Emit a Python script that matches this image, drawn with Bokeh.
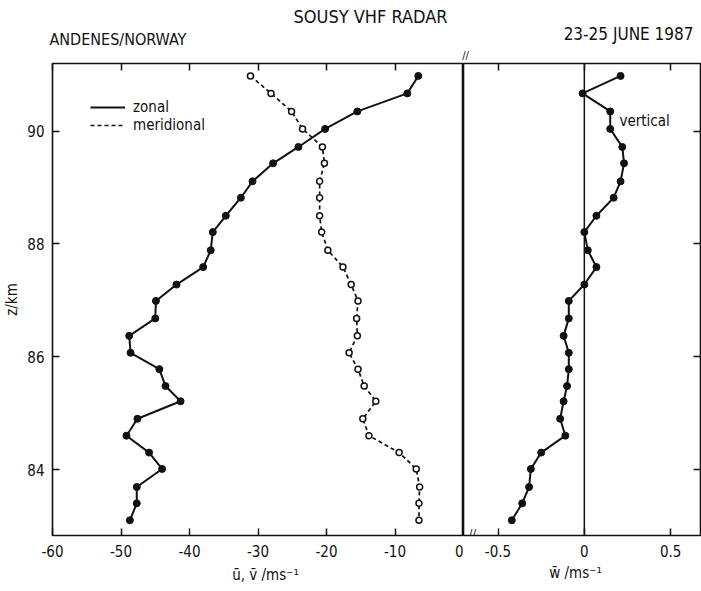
from bokeh.plotting import figure
from bokeh.layouts import row, column
from bokeh.models import (ColumnDataSource, Range1d, FixedTicker, LinearAxis, Label,
                          Legend, LegendItem, Span, CustomLabelingPolicy)
from bokeh.embed import file_html
from bokeh.resources import INLINE

# ---------------- data ----------------
height_km = [90.98, 90.67, 90.35, 90.04, 89.72, 89.43, 89.11, 88.82, 88.50, 88.21,
             87.89, 87.59, 87.28, 86.99, 86.68, 86.37, 86.07, 85.78, 85.48, 85.21,
             84.90, 84.60, 84.30, 84.01, 83.69, 83.40, 83.10]
zonal = [-6.6, -8.2, -15.5, -20.2, -24.1, -27.8, -30.8, -32.5, -34.7, -36.6,
         -36.9, -38.0, -41.9, -44.9, -45.0, -48.8, -48.6, -44.4, -43.5, -41.3,
         -47.6, -49.2, -45.9, -44.0, -47.7, -47.7, -48.7]
meridional = [-31.1, -28.1, -25.1, -23.5, -20.6, -20.3, -21.0, -21.0, -21.0, -20.7,
              -19.8, -17.6, -16.4, -15.4, -15.6, -15.5, -16.7, -15.4, -14.5, -12.8,
              -14.7, -13.8, -9.4, -6.9, -6.4, -6.5, -6.5]
vertical = [0.21, -0.01, 0.15, 0.15, 0.22, 0.23, 0.21, 0.17, 0.07, 0.00,
            0.02, 0.07, 0.00, -0.09, -0.09, -0.12, -0.09, -0.09, -0.10, -0.12,
            -0.14, -0.11, -0.25, -0.31, -0.32, -0.36, -0.42]

u_ticks = [-60, -50, -40, -30, -20, -10, 0]
w_ticks = [-0.5, 0, 0.5]
z_ticks = [84, 86, 88, 90]

title_text = "SOUSY VHF RADAR"
site_text = "ANDENES/NORWAY"
date_text = "23-25 JUNE 1987"
u_label = "u\u0304, v\u0304 /ms\u207b\u00b9"
w_label = "w\u0304 /ms\u207b\u00b9"
z_label = "z/km"

FONT = "DejaVu Sans Condensed"
INK = "#111111"


def tick_text(t):
    return "0" if t == 0 else ("%g" % t)


src_uv = ColumnDataSource(dict(z=height_km, u=zonal, v=meridional))
src_w = ColumnDataSource(dict(z=height_km, w=vertical))

y_rng = Range1d(82.83, 91.2)

base = dict(output_backend="svg", toolbar_location=None,
            x_axis_type=None, y_axis_type=None, background_fill_color="white",
            border_fill_color="white")

# header and footer strips that carry the free texts
header = figure(frame_width=700, frame_height=62, min_border=0,
                x_range=Range1d(0, 700), y_range=Range1d(0, 62), **base)
footer = figure(frame_width=700, frame_height=27, min_border=0,
                x_range=Range1d(0, 700), y_range=Range1d(0, 27), **base)
for f in (header, footer):
    f.grid.visible = False
    f.outline_line_color = None

common = dict(frame_height=472, min_border_top=1, min_border_bottom=28, y_range=y_rng, **base)

p1 = figure(frame_width=411, min_border_left=50, min_border_right=0,
            x_range=Range1d(-60, 0), **common)
p2 = figure(frame_width=237, min_border_left=0, min_border_right=2,
            x_range=Range1d(-0.70, 0.673), **common)

for p in (p1, p2):
    p.grid.visible = False
    p.outline_line_color = INK
    p.outline_line_width = 1.6

NO_LABELS = CustomLabelingPolicy(code="""
    for (const i of Array.from(indices)) { indices.unset(i) }
    return indices
""")


def style_axis(ax, ticks, show_labels=True):
    ax.ticker = FixedTicker(ticks=ticks)
    ax.axis_line_color = None
    ax.major_tick_in = 7
    ax.major_tick_out = 0
    ax.major_tick_line_color = INK
    ax.major_tick_line_width = 1.5
    ax.minor_tick_line_color = None
    ax.major_label_text_font = FONT
    ax.major_label_text_color = INK
    if show_labels:
        ax.major_label_text_font_size = "15px"
        ax.major_label_standoff = 9
        ax.major_label_overrides = {t: tick_text(t) for t in ticks}
    else:
        ax.major_label_policy = NO_LABELS
        ax.major_label_text_font_size = "0px"
        ax.major_label_standoff = 0
    return ax


p1.add_layout(style_axis(LinearAxis(), u_ticks), "below")
p1.add_layout(style_axis(LinearAxis(), u_ticks, show_labels=False), "above")
zax = style_axis(LinearAxis(), z_ticks)
zax.major_label_standoff = 8
zax.axis_label = z_label
zax.axis_label_text_font = FONT
zax.axis_label_text_font_size = "15px"
zax.axis_label_text_font_style = "normal"
zax.axis_label_text_color = INK
zax.axis_label_standoff = 3
p1.add_layout(zax, "left")

p2.add_layout(style_axis(LinearAxis(), w_ticks), "below")
p2.add_layout(style_axis(LinearAxis(), w_ticks, show_labels=False), "above")
p2.add_layout(style_axis(LinearAxis(), z_ticks, show_labels=False), "right")

# ---------------- data marks ----------------
r_zonal = p1.line("u", "z", source=src_uv, line_color=INK, line_width=2)
p1.scatter("u", "z", source=src_uv, size=7, fill_color=INK, line_color=INK)
r_mer = p1.line("v", "z", source=src_uv, line_color=INK, line_width=1.7, line_dash="4 3")
p1.scatter("v", "z", source=src_uv, size=6, fill_color="white", line_color=INK, line_width=1.5)

p2.add_layout(Span(location=0, dimension="height", line_color=INK, line_width=1.5))
p2.line("w", "z", source=src_w, line_color=INK, line_width=2)
p2.scatter("w", "z", source=src_w, size=7, fill_color=INK, line_color=INK)

legend = Legend(items=[LegendItem(label="zonal", renderers=[r_zonal]),
                       LegendItem(label="meridional", renderers=[r_mer])],
                location=(38, 401), glyph_width=35, glyph_height=16, label_height=16,
                label_standoff=8, spacing=0, padding=0, border_line_color=None,
                background_fill_alpha=0, label_text_font=FONT,
                label_text_font_size="15px", label_text_color=INK)
p1.add_layout(legend)


# ---------------- texts ----------------
def lab(p, text, x, y, size, align="left", baseline="middle", angle=0):
    p.add_layout(Label(x=x, y=y, x_units="screen", y_units="screen", text=text,
                       text_font=FONT, text_font_size=size, text_color=INK,
                       text_align=align, text_baseline=baseline, angle=angle))


lab(header, title_text, 370, 46, "18px", align="center")
lab(header, site_text, 49, 23, "16px")
lab(header, date_text, 693, 28.5, "17px", align="right")
lab(header, "//", 465, 1, "11px", align="center", baseline="bottom")

lab(footer, u_label, 265, 16, "15px", align="center")
lab(footer, w_label, 575, 18, "15px", align="center")

lab(p2, "vertical", 156, 415, "15px")
lab(p2, "//", 9, 2, "12px", align="center")

layout = column(header, row(p1, p2), footer)
open("out.html", "w").write(file_html(layout, INLINE))
